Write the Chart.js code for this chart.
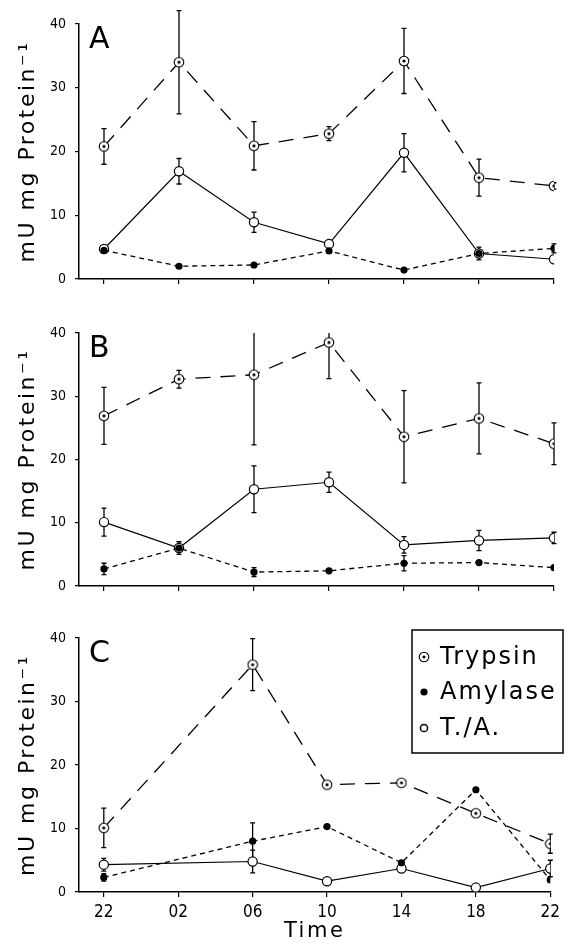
<!DOCTYPE html>
<html>
<head>
<meta charset="utf-8">
<script src="https://cdn.jsdelivr.net/npm/chart.js@4.4.1/dist/chart.umd.min.js"></script>
<style>
  html, body { margin: 0; padding: 0; background: #fff; }
  #wrap { position: relative; width: 565px; height: 945px; overflow: hidden; }
  #wrap canvas { position: absolute; left: 0; }
</style>
</head>
<body>
<div id="wrap">
  <canvas id="panelA"></canvas>
  <canvas id="panelB"></canvas>
  <canvas id="panelC"></canvas>
</div>
<script>
// time of day (hours) along the x axis
const timeLabels = ['22', '02', '06', '10', '14', '18', '22'];

// panel A
const trypsinA = [20.8, 34.0, 20.9, 22.8, 34.2, 15.9, 14.6];
const trypsinErrA = [2.8, 8.1, 3.8, 1.1, 5.1, 2.9, 0.5];
const amylaseA = [4.5, 2.0, 2.2, 4.4, 1.4, 4.0, 4.8];
const amylaseErrA = [0, 0, 0, 0, 0, 1.0, 0.7];
const ratioA = [4.7, 16.9, 8.9, 5.5, 19.8, 4.0, 3.1];
const ratioErrA = [0, 2.0, 1.6, 0, 3.0, 0, 0];

// panel B
const trypsinB = [26.9, 32.7, 33.4, 38.5, 23.6, 26.5, 22.5];
const trypsinErrB = [4.5, 1.4, 11.1, 5.7, 7.3, 5.6, 3.3];
const amylaseB = [2.7, 6.0, 2.2, 2.4, 3.6, 3.7, 2.9];
const amylaseErrB = [0.9, 1.0, 0.7, 0, 1.2, 0, 0];
const ratioB = [10.1, 6.0, 15.3, 16.4, 6.5, 7.2, 7.6];
const ratioErrB = [2.2, 0, 3.7, 1.6, 1.3, 1.6, 0.9];

// panel C (no sample at 02)
const trypsinC = [10.1, null, 35.8, 16.9, 17.2, 12.4, 7.6];
const trypsinErrC = [3.1, 0, 4.1, 0, 0, 0, 1.5];
const amylaseC = [2.3, null, 8.0, 10.3, 4.6, 16.1, 1.9];
const amylaseErrC = [0.6, 0, 2.9, 0, 0, 0, 0];
const ratioC = [4.3, null, 4.8, 1.7, 3.7, 0.7, 3.7];
const ratioErrC = [1.0, 0, 1.8, 0, 0, 0, 1.3];

const NARROW = "'Liberation Sans Narrow', 'DejaVu Sans Condensed', sans-serif";
const SANS = "'DejaVu Sans', sans-serif";

// dotted-circle marker for trypsin
function trypsinMarker() {
  const c = document.createElement('canvas');
  c.width = 12; c.height = 12;
  const g = c.getContext('2d');
  g.fillStyle = '#fff';
  g.strokeStyle = '#000';
  g.lineWidth = 1.1;
  g.beginPath(); g.arc(6, 6, 4.8, 0, Math.PI * 2); g.fill(); g.stroke();
  g.fillStyle = '#000';
  g.beginPath(); g.arc(6, 6, 1.6, 0, Math.PI * 2); g.fill();
  return c;
}
const trypsinImg = trypsinMarker();

const toPoints = vals => vals.map((v, i) => ({ x: i, y: v }));

function makeDatasets(tryp, trypErr, amyl, amylErr, ratio, ratioErr) {
  return [
    {
      label: 'Trypsin', data: toPoints(tryp), errors: trypErr,
      borderColor: '#000', borderWidth: 1.3, borderDash: [15, 10],
      pointStyle: trypsinImg, pointRadius: 5, spanGaps: true
    },
    {
      label: 'Amylase', data: toPoints(amyl), errors: amylErr,
      borderColor: '#000', borderWidth: 1.3, borderDash: [5, 4],
      pointStyle: 'circle', pointRadius: 3.6, pointBorderWidth: 0,
      pointBackgroundColor: '#000', spanGaps: true
    },
    {
      label: 'T./A.', data: toPoints(ratio), errors: ratioErr,
      borderColor: '#000', borderWidth: 1.2,
      pointStyle: 'circle', pointRadius: 4.6, pointBorderWidth: 1.2,
      pointBorderColor: '#000', pointBackgroundColor: '#fff', spanGaps: true
    }
  ];
}

// vertical error bars under the markers
const errorBars = {
  id: 'errorBars',
  beforeDatasetsDraw(chart, args, opts) {
    const { ctx, chartArea } = chart;
    const ys = chart.scales.y;
    ctx.save();
    ctx.strokeStyle = '#000';
    ctx.lineWidth = 1.3;
    chart.data.datasets.forEach((ds, di) => {
      const meta = chart.getDatasetMeta(di);
      ds.errors.forEach((e, i) => {
        const v = ds.data[i].y;
        if (!e || v == null) return;
        const px = meta.data[i].x;
        let top = ys.getPixelForValue(v + e);
        const bot = ys.getPixelForValue(v - e);
        let capTop = true;
        if (opts.clipTop && top < chartArea.top) { top = chartArea.top; capTop = false; }
        ctx.beginPath();
        ctx.moveTo(px, top); ctx.lineTo(px, bot);
        if (capTop) { ctx.moveTo(px - 2.5, top); ctx.lineTo(px + 2.5, top); }
        ctx.moveTo(px - 2.5, bot); ctx.lineTo(px + 2.5, bot);
        ctx.stroke();
      });
    });
    ctx.restore();
  }
};

// wide letter spacing for the axis titles (ticks are drawn later, unspaced)
const spacedTitles = {
  id: 'spacedTitles',
  beforeDraw(chart) { chart.ctx.letterSpacing = '2.5px'; },
  beforeDatasetsDraw(chart) { chart.ctx.letterSpacing = '0px'; }
};

// panel letter and the boxed key
const panelDecor = {
  id: 'panelDecor',
  afterDraw(chart, args, opts) {
    const { ctx, chartArea } = chart;
    ctx.save();
    ctx.letterSpacing = '0px';
    ctx.fillStyle = '#000';
    ctx.font = '30px ' + SANS;
    ctx.textBaseline = 'alphabetic';
    ctx.fillText(opts.letter, 89, chartArea.top + 24);

    if (opts.key) {
      ctx.fillStyle = '#fff';
      ctx.fillRect(412, 12, 151, 123);
      ctx.strokeStyle = '#000';
      ctx.lineWidth = 1.5;
      ctx.strokeRect(412, 12, 151, 123);
      const rows = [39, 74, 110];
      ctx.font = '24px ' + SANS;
      ctx.letterSpacing = '2px';
      chart.data.datasets.forEach((ds, i) => {
        ctx.fillStyle = ds.pointBackgroundColor || '#000';
        ctx.strokeStyle = '#000';
        Chart.helpers.drawPoint(ctx, {
          pointStyle: ds.pointStyle,
          radius: ds.pointStyle === 'circle' ? 3.6 : ds.pointRadius,
          borderWidth: ds.pointBorderWidth || 0,
          rotation: 0
        }, 424, rows[i]);
        ctx.fillStyle = '#000';
        ctx.fillText(ds.label, 440, rows[i] + 7);
      });
    }
    ctx.restore();
  }
};

function makePanel(id, top, areaH, letter, datasets, last) {
  const xH = last ? 53 : 45;
  const canvas = document.getElementById(id);
  canvas.width = 565;
  canvas.height = 20 + areaH + xH;
  canvas.style.top = top + 'px';

  return new Chart(canvas, {
    type: 'line',
    data: { datasets },
    plugins: [spacedTitles, errorBars, panelDecor],
    options: {
      responsive: false,
      animation: false,
      events: [],
      layout: { padding: { top: 20, right: 11, left: 0, bottom: 0 } },
      plugins: {
        legend: { display: false },
        tooltip: { enabled: false },
        errorBars: { clipTop: letter === 'B' },
        panelDecor: { letter, key: last }
      },
      scales: {
        x: {
          type: 'linear',
          min: -1 / 3,
          max: 6,
          afterBuildTicks: s => {
            s.ticks = timeLabels.map((_, i) => ({ value: i }));
          },
          afterFit: s => { s.height = xH; },
          ticks: {
            display: last,
            autoSkip: false,
            maxRotation: 0,
            padding: 5,
            z: 1,
            color: '#000',
            font: { family: NARROW, size: 17 },
            callback: v => timeLabels[Math.round(v)]
          },
          grid: { drawOnChartArea: false, tickLength: 5, color: '#000', lineWidth: 1.2 },
          border: { color: '#000', width: 1.5 },
          title: {
            display: last,
            text: 'Time',
            color: '#000',
            font: { family: SANS, size: 21 },
            padding: { top: 0, bottom: 1 }
          }
        },
        y: {
          min: 0,
          max: 40,
          afterFit: s => { s.width = 79; },
          ticks: {
            stepSize: 10,
            padding: 9,
            z: 1,
            color: '#000',
            font: { family: NARROW, size: 14 }
          },
          grid: { drawOnChartArea: false, tickLength: 4, color: '#000', lineWidth: 1.2 },
          border: { color: '#000', width: 1.5 },
          title: {
            display: true,
            text: 'mU mg Protein\u207B\u00B9',
            color: '#000',
            font: { family: SANS, size: 22 },
            padding: { top: 15, bottom: 0 }
          }
        }
      }
    }
  });
}

makePanel('panelA', 4, 255, 'A',
  makeDatasets(trypsinA, trypsinErrA, amylaseA, amylaseErrA, ratioA, ratioErrA), false);
makePanel('panelB', 313, 253, 'B',
  makeDatasets(trypsinB, trypsinErrB, amylaseB, amylaseErrB, ratioB, ratioErrB), false);
makePanel('panelC', 618, 254, 'C',
  makeDatasets(trypsinC, trypsinErrC, amylaseC, amylaseErrC, ratioC, ratioErrC), true);
</script>
</body>
</html>
